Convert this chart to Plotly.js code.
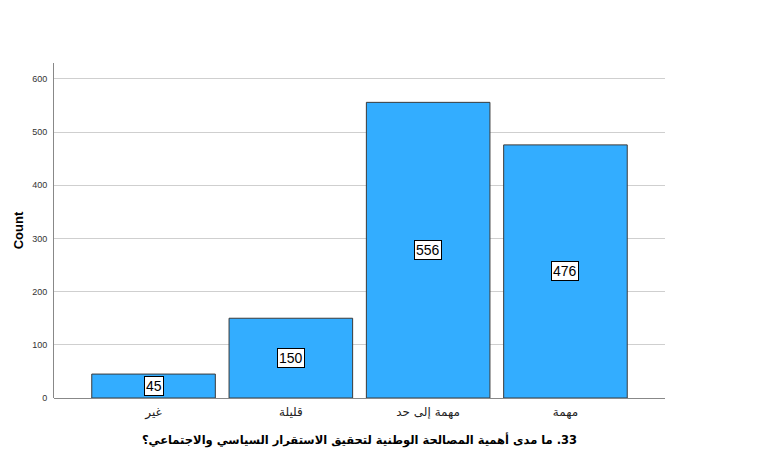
<!DOCTYPE html>
<html>
<head>
<meta charset="utf-8">
<script src="https://cdn.plot.ly/plotly-3.0.1.min.js"></script>
<style>html,body{margin:0;padding:0;background:#fff;}#chart{width:765px;height:459px;}</style>
</head>
<body>
<div id="chart"></div>
<script>
const categories = ["غير", "قليلة", "مهمة إلى حد", "مهمة"];
const counts = [45, 150, 556, 476];
const yTicks = [0, 100, 200, 300, 400, 500, 600];
const xTitle = "33. ما مدى أهمية المصالحة الوطنية لتحقيق الاستقرار السياسي والاجتماعي؟";
const yTitle = "Count";

const trace = {
  type: 'bar',
  x: categories,
  y: counts,
  marker: {color: '#33adff', line: {color: '#3a3a3a', width: 1}},
  hoverinfo: 'none'
};

const annotations = categories.map((c, i) => ({
  x: c, y: counts[i] / 2, xref: 'x', yref: 'y',
  text: String(counts[i]), showarrow: false,
  bgcolor: '#ffffff', bordercolor: '#000000', borderwidth: 1, borderpad: 1,
  font: {family: 'Arial, Liberation Sans, sans-serif', size: 14, color: '#000'}
}));

const layout = {
  width: 765, height: 459,
  margin: {l: 54, r: 100, t: 63, b: 61},
  paper_bgcolor: '#ffffff', plot_bgcolor: '#ffffff',
  showlegend: false,
  bargap: 0.1,
  font: {family: 'Arial, Liberation Sans, sans-serif', color: '#000'},
  xaxis: {
    type: 'category',
    range: [-0.725, 3.725],
    showline: false, showgrid: false, zeroline: false,
    ticks: '', ticklabelstandoff: 5,
    tickfont: {family: 'DejaVu Sans, sans-serif', size: 12, color: '#222'},
    title: {text: '\u202B' + xTitle + '\u202C', font: {family: 'DejaVu Sans, sans-serif', size: 11.5, color: '#000', weight: 'bold'}, standoff: 16}
  },
  yaxis: {
    range: [0, 630],
    tickvals: yTicks,
    showline: true, linecolor: '#888', linewidth: 1,
    showgrid: true, gridcolor: '#cfcfcf', gridwidth: 1,
    zeroline: true, zerolinecolor: '#888', zerolinewidth: 1,
    ticks: '', ticklabelstandoff: 4,
    tickfont: {family: 'Arial, Liberation Sans, sans-serif', size: 9, color: '#333'},
    title: {text: yTitle, font: {family: 'Arial, Liberation Sans, sans-serif', size: 13, color: '#000', weight: 'bold'}, standoff: 5}
  },
  annotations: annotations
};

Plotly.newPlot('chart', [trace], layout, {displayModeBar: false, staticPlot: true});
</script>
</body>
</html>
